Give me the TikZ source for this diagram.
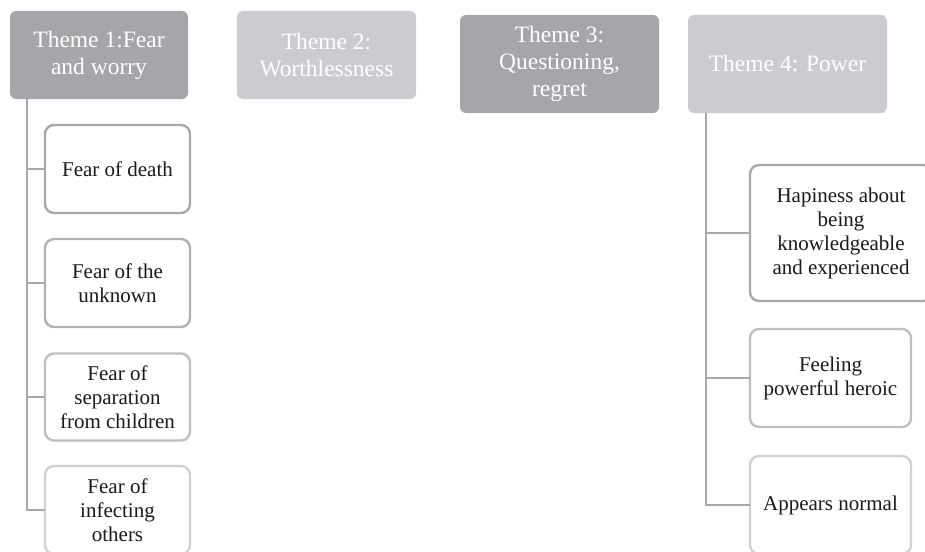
\documentclass[tikz,border=0pt]{standalone}
\usepackage{fontspec}
\setmainfont{Liberation Serif}
\usetikzlibrary{calc}
\definecolor{dark}{HTML}{A5A6AA}
\definecolor{light}{HTML}{CBCCCF}
\definecolor{linec}{HTML}{A7A8AC}
\definecolor{bA}{HTML}{A8A9AD}
\definecolor{bB}{HTML}{B0B1B4}
\definecolor{bC}{HTML}{BEBFC2}
\definecolor{bD}{HTML}{D0D1D3}
\definecolor{txt}{HTML}{1A1A1A}
\begin{document}
\begin{tikzpicture}[x=1pt,y=-1pt,
  theme/.style={rectangle,rounded corners=6pt,inner sep=0pt,outer sep=0pt,
    text=white,align=center,font=\fontsize{23.5}{27}\selectfont},
  child/.style={rectangle,draw=#1,line width=2.4pt,rounded corners=9pt,fill=white,
    inner sep=0pt,outer sep=0pt,text=txt,align=center,font=\fontsize{21}{24}\selectfont},
  conn/.style={draw=linec,line width=2.3pt}]
\useasboundingbox (0,0) rectangle (925,551);
% themes
\node[theme,fill=dark,minimum width=178pt,minimum height=88pt] (t1) at (99,55) {Theme 1:Fear\\and worry};
\node[theme,fill=light,minimum width=179pt,minimum height=88pt] (t2) at (326.5,55) {Theme 2:\\Worthlessness};
\node[theme,fill=dark,minimum width=199pt,minimum height=98pt] (t3) at (559.5,64) {Theme 3:\\Questioning,\\regret};
\node[theme,fill=light,minimum width=199pt,minimum height=98pt] (t4) at (787.5,64) {Theme 4: Power};
% children of theme 1
\node[child=bA,minimum width=145pt,minimum height=88pt] (c1) at (117.5,169) {Fear of death};
\node[child=bB,minimum width=145pt,minimum height=88pt] (c2) at (117.5,283) {Fear of the\\unknown};
\node[child=bC,minimum width=145pt,minimum height=87pt] (c3) at (117.5,397) {Fear of\\separation\\from children};
\node[child=bD,minimum width=145pt,minimum height=88pt] (c4) at (117.5,510) {Fear of\\infecting\\others};
% children of theme 4
\node[child=bA,minimum width=182pt,minimum height=136pt] (d1) at (841,233) {Hapiness about\\being\\knowledgeable\\and experienced};
\node[child=bC,minimum width=161pt,minimum height=98pt] (d2) at (830.5,378) {Feeling\\powerful heroic};
\node[child=bD,minimum width=161pt,minimum height=98pt] (d3) at (830.5,505) {Appears normal};
% connectors
\coordinate (v1) at ($(t1.south west)+(17,0)$);
\coordinate (v4) at ($(t4.south west)+(18,0)$);
\draw[conn] (v1) |- (c4.west);
\draw[conn] (v1 |- c1.west) -- (c1.west);
\draw[conn] (v1 |- c2.west) -- (c2.west);
\draw[conn] (v1 |- c3.west) -- (c3.west);
\draw[conn] (v4) |- (d3.west);
\draw[conn] (v4 |- d1.west) -- (d1.west);
\draw[conn] (v4 |- d2.west) -- (d2.west);
\end{tikzpicture}
\end{document}
